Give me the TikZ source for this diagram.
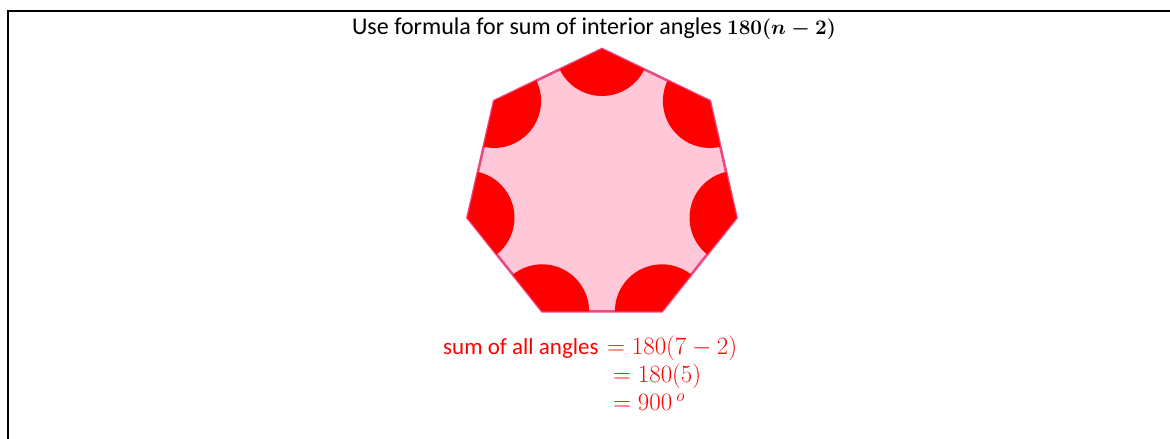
\documentclass[tikz,border=0pt]{standalone}
\usepackage{fontspec}
\setmainfont{Carlito}
\usetikzlibrary{calc}
\definecolor{polyfill}{RGB}{255,199,216}
\definecolor{polyedge}{RGB}{236,72,132}
\definecolor{angred}{RGB}{255,0,0}
\tikzset{
  frameline/.style={line width=2.5pt, black},
  heptagon/.style={fill=polyfill, draw=polyedge, line width=2.6pt, line join=miter},
  sector/.style={fill=angred},
  titletext/.style={anchor=base, inner sep=0pt, font=\fontsize{24}{28}\selectfont},
  redtext/.style={anchor=base west, inner sep=0pt, text=angred, font=\fontsize{23}{28}\selectfont},
  redmath/.style={anchor=base west, inner sep=0pt, text=angred, font=\fontsize{24}{28}\selectfont},
}
\begin{document}
\begin{tikzpicture}[x=1pt,y=1pt]
\useasboundingbox (0,0) rectangle (1170,439);
% frame
\coordinate (fTL) at (8,428);
\coordinate (fTR) at (1170,428);
\coordinate (fBL) at (8,0);
\draw[frameline] (fBL) -- (fTL) -- (fTR);
% title
\node[titletext] (title) at (594,404) {Use formula for sum of interior angles {\fontsize{22}{28}\selectfont\boldmath$180(n-2)$}};
% heptagon
\coordinate (c) at (602,252);
\foreach \k in {0,...,6} {
  \coordinate (v\k) at ($(c)+({90+\k*360/7}:138)$);
}
\draw[heptagon] (v0) -- (v1) -- (v2) -- (v3) -- (v4) -- (v5) -- (v6) -- cycle;
\foreach \k in {0,...,6} {
  \pgfmathsetmacro\t{90+\k*360/7}
  \fill[sector] (v\k) -- ++({\t+115.714}:47) arc[start angle={\t+115.714}, end angle={\t+244.286}, radius=47] -- cycle;
}
% bottom text
\node[redtext] (lbl) at (443,84) {sum of all angles};
\node[redmath] (eq1) at (607,84) {$=180(7-2)$};
\node[redmath] (eq2) at (613,56) {$=180(5)$};
\node[redmath] (eq3) at (613,28) {$=900\,^{o}$};
\end{tikzpicture}
\end{document}
